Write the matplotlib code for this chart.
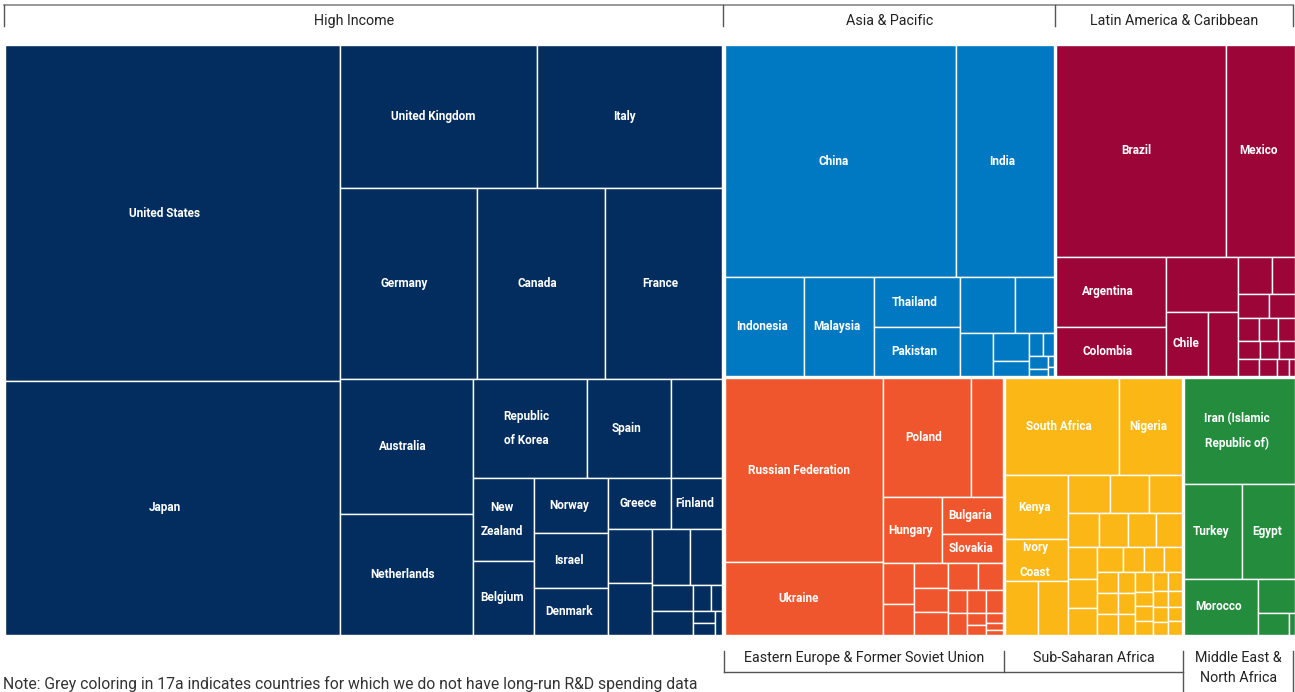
import matplotlib
matplotlib.use("Agg")
import matplotlib.pyplot as plt
from matplotlib.patches import Rectangle

plt.rcParams['font.family'] = ['Roboto', 'DejaVu Sans']

# regions and their colours
regions = ["High Income", "Asia & Pacific", "Latin America & Caribbean",
           "Eastern Europe & Former Soviet Union", "Sub-Saharan Africa",
           "Middle East &\nNorth Africa"]
colors = ["#022d5e", "#0079c2", "#9b0538", "#f0562d", "#fbb716", "#238c3d"]

# country values (relative size), nested the way the treemap groups them;
# names follow the flattened order of the values ("" = unlabelled country)
hi_values = [[112.56, 85.09],
             [[28.17, 26.46],
              [[26.17, 24.45, 22.35],
               [[17.96, 16.09],
                [[11.29, 8.32, 5.05],
                 [[5.06, 4.51], [4.07, 4.07, 3.48],
                  [[3.21, 2.60],
                   [[2.38, 2.29],
                    [[2.13, 1.79],
                     [[1.07, 0.98],
                      [[0.47, 0.29], [[0.26, 0.26], 0.17]]]]]]]]]]]]
hi_names = ["United States", "Japan", "United Kingdom", "Italy", "Germany",
            "Canada", "France", "Australia", "Netherlands", "Republic\nof Korea",
            "Spain", "", "New\nZealand", "Belgium", "Norway", "Israel", "Denmark",
            "Greece", "Finland"] + [""] * 11

asia_values = [[54.30, 22.80],
               [7.93, 6.92, [4.30, 4.21],
                [[3.08, 2.18],
                 [1.42, [1.02, 0.53], [[0.34, 0.24], [[0.25, 0.13], [0.07, 0.055]]]]]]]
asia_names = ["China", "India", "Indonesia", "Malaysia", "Thailand", "Pakistan"] + [""] * 11

latam_values = [[36.35, 14.75],
                [[7.84, 5.41],
                 [3.96, [2.67, 1.95]],
                 [[1.31, 0.86], [0.77, 0.65], [0.48, 0.43, 0.39],
                  [0.40, 0.35, 0.30], [0.37, 0.32, [0.21, 0.11]]]]]
latam_names = ["Brazil", "Mexico", "Argentina", "Colombia", "", "Chile"] + [""] * 15

ee_values = [[29.40, 11.65],
             [[10.55, 3.83],
              [4.00, [2.26, 1.83]],
              [[1.28, 0.99], [0.85, 0.82, 0.78],
               [[0.80, 0.65],
                [[0.46, 0.41],
                 [[0.46, 0.40],
                  [[0.22, 0.18], [0.16, 0.12, 0.09]]]]]]]]
ee_names = ["Russian Federation", "Ukraine", "Poland", "", "Hungary", "Bulgaria",
            "Slovakia"] + [""] * 16

ssa_values = [[11.20, 6.20],
              [[4.10, 2.66, [1.80, 1.66]],
               [[1.60, 1.48, 1.27], [1.09, 1.02, 0.98, 0.93],
                [[0.91, 0.86, 0.77],
                 [[0.65, 0.53, 0.50, 0.45],
                  [[0.44, 0.46, 0.44], [0.36, 0.37, 0.36], [0.36, 0.27, 0.27, 0.25],
                   [0.30, 0.24, 0.23, 0.20], [0.28, 0.22, 0.20, 0.20]]]]]]]
ssa_names = ["South Africa", "Nigeria", "Kenya", "Ivory\nCoast"] + [""] * 34

me_values = [12.05, [5.58, 5.20], [4.20, [1.29, [0.70, 0.13]]]]
me_names = ["Iran (Islamic\nRepublic of)", "Turkey", "Egypt", "Morocco", "", "", ""]

region_values = [hi_values, asia_values, latam_values, ee_values, ssa_values, me_values]
region_names = [hi_names, asia_names, latam_names, ee_names, ssa_names, me_names]

note = "Note: Grey coloring in 17a indicates countries for which we do not have long-run R&D spending data"


def total(t):
    return sum(total(c) for c in t) if isinstance(t, list) else t


def layout(t, x, y, w, h, out):
    # split each group along the longer side of its rectangle
    if not isinstance(t, list):
        out.append((x, y, w, h))
        return out
    s = total(t)
    for c in t:
        f = total(c) / s
        if w >= h:
            layout(c, x, y, w * f, h, out)
            x += w * f
        else:
            layout(c, x, y, w, h * f, out)
            y += h * f
    return out


fig = plt.figure(figsize=(12.95, 6.92), dpi=100)
ax = fig.add_axes([0, 0, 1, 1])
ax.set_xlim(0, 1295)
ax.set_ylim(692, 0)
ax.axis("off")

tot = [total(v) for v in region_values]
top = [[tot[0]], [[tot[1], tot[2]], [tot[3], tot[4], tot[5]]]]
X0, Y0, X1, Y1 = 4, 44, 1296.5, 636
rects = layout(top, X0, Y0, X1 - X0, Y1 - Y0, [])

gap = 1.2
for (rx, ry, rw, rh), vals, names, col in zip(rects, region_values, region_names, colors):
    cells = layout(vals, rx + gap, ry + gap, rw - 2 * gap, rh - 2 * gap, [])
    for (cx, cy, cw, ch), nm in zip(cells, names):
        ax.add_patch(Rectangle((cx, cy), cw, ch, facecolor=col, edgecolor="white", lw=1.0))
        if nm:
            dx = min(8, cw * 0.03)
            ax.text(cx + cw / 2 - dx, cy + ch / 2, nm, color="white", fontsize=8.5,
                    fontweight="bold", ha="center", va="center", linespacing=2.15)

# header brackets (top row of regions)
lc = "#555555"
hi, asia, lat, ee, ssa, me = rects
tx = [hi[0], (hi[0] + hi[2] + asia[0]) / 2, (asia[0] + asia[2] + lat[0]) / 2, 1293]
ax.plot([tx[0], tx[-1]], [5, 5], color="#888888", lw=1.2)
for x in tx:
    ax.plot([x, x], [5, 26], color=lc, lw=1)
for i in range(3):
    ax.text((tx[i] + tx[i + 1]) / 2 - (10 if i == 0 else 0), 21, regions[i],
            fontsize=10.3, color="#222222", ha="center", va="center")

# footer brackets (bottom row of regions)
bx = [ee[0] + 1, (ee[0] + ee[2] + ssa[0]) / 2, (ssa[0] + ssa[2] + me[0]) / 2, 1293]
ax.plot([bx[0], bx[2]], [672, 672], color=lc, lw=1)
for x in bx[:2]:
    ax.plot([x, x], [651, 672], color=lc, lw=1)
for x in bx[2:]:
    ax.plot([x, x], [651, 700], color=lc, lw=1)
ax.text((bx[0] + bx[1]) / 2, 658, regions[3], fontsize=10.3, color="#222222",
        ha="center", va="center")
ax.text((bx[1] + bx[2]) / 2, 658, regions[4], fontsize=10.3, color="#222222",
        ha="center", va="center")
ax.text((bx[2] + bx[3]) / 2, 668, regions[5], fontsize=10.3, color="#222222",
        ha="center", va="center", linespacing=1.6)

ax.text(3, 684, note, fontsize=11.3, color="#333333", ha="left", va="center")

fig.savefig("out.png", dpi=100)
